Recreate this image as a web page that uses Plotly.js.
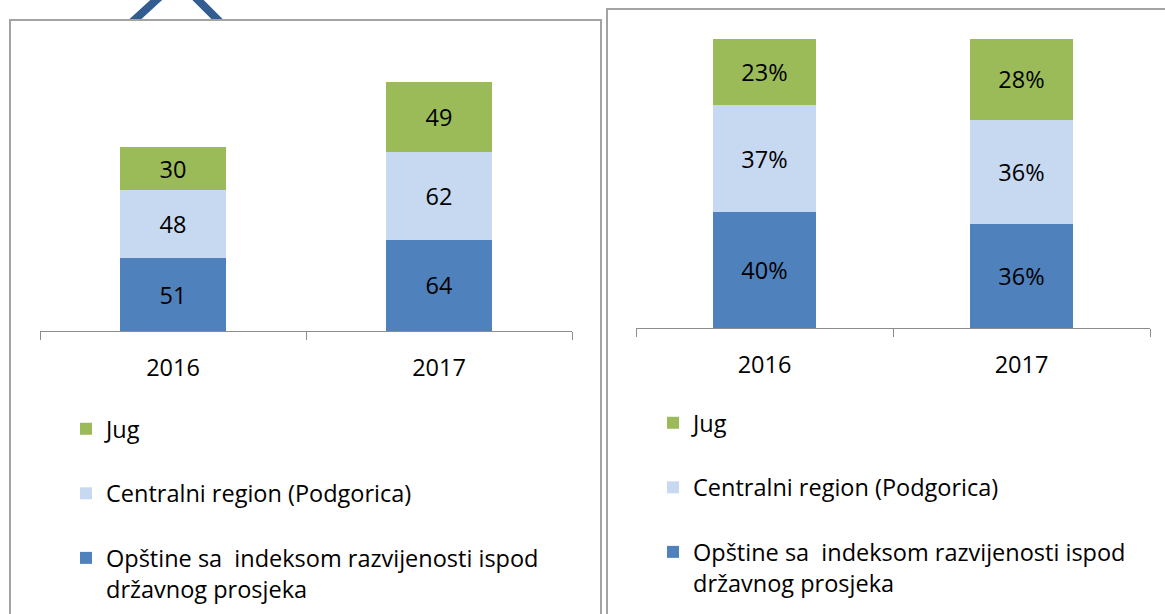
<!DOCTYPE html>
<html>
<head>
<meta charset="utf-8">
<script src="https://cdn.plot.ly/plotly-3.0.1.min.js"></script>
<style>html,body{margin:0;padding:0;background:#fff;} #chart{width:1165px;height:614px;}</style>
</head>
<body>
<div id="chart"></div>
<script>
// ---- data ----
const years = ['2016', '2017'];
const seriesNames = ['Opštine sa\u00a0 indeksom razvijenosti ispod<br>državnog prosjeka', 'Centralni region (Podgorica)', 'Jug'];
const countsOpstine = [51, 64];
const countsCentralni = [48, 62];
const countsJug = [30, 49];
const pctOpstine = [40, 36];
const pctCentralni = [37, 36];
const pctJug = [23, 28];
const colors = ['#4F81BD', '#C6D9F1', '#9BBB59'];

const W = 1165, H = 614;
const px = v => v / W;
const py = v => 1 - v / H;

const FONT = 'Open Sans, Liberation Sans, sans-serif';
const FS = 23.5;

function mk(name, x, y, color, xa, ya, legend, fmt, group, rank) {
  return {
    type: 'bar', name: name, x: x, y: y,
    xaxis: xa, yaxis: ya, legend: legend, legendgroup: group, legendrank: rank,
    marker: {color: color, line: {width: 0}},
    text: y.map(fmt), textposition: 'inside', insidetextanchor: 'middle',
    constraintext: 'none', textangle: 0,
    textfont: {family: FONT, size: FS, color: '#000'},
    hoverinfo: 'skip', width: 0.4
  };
}
const fCount = v => String(v);
const fPct = v => v + '%';

const data = [
  mk(seriesNames[0], years, countsOpstine, colors[0], 'x', 'y', 'legend', fCount, 'a1', 3),
  mk(seriesNames[1], years, countsCentralni, colors[1], 'x', 'y', 'legend', fCount, 'a2', 2),
  mk(seriesNames[2], years, countsJug, colors[2], 'x', 'y', 'legend', fCount, 'a3', 1),
  mk(seriesNames[0], years, pctOpstine, colors[0], 'x2', 'y2', 'legend2', fPct, 'b1', 3),
  mk(seriesNames[1], years, pctCentralni, colors[1], 'x2', 'y2', 'legend2', fPct, 'b2', 2),
  mk(seriesNames[2], years, pctJug, colors[2], 'x2', 'y2', 'legend2', fPct, 'b3', 1)
];

const xCommon = {
  type: 'category', range: [-0.5, 1.5], showgrid: false, zeroline: false,
  showline: true, linecolor: '#8c8c8c', linewidth: 1,
  ticks: 'outside', tickson: 'boundaries', ticklen: 8, tickcolor: '#8c8c8c', tickwidth: 1,
  tickfont: {family: FONT, size: FS, color: '#000'}, ticklabelstandoff: 16,
  fixedrange: true
};

const legendCommon = {
  orientation: 'v', xanchor: 'left', yanchor: 'top',
  traceorder: 'grouped', tracegroupgap: 31, valign: 'top',
  font: {family: FONT, size: FS, color: '#000'}, bgcolor: 'rgba(0,0,0,0)', borderwidth: 0
};

const layout = {
  width: W, height: H,
  margin: {l: 0, r: 0, t: 0, b: 0},
  paper_bgcolor: '#fff', plot_bgcolor: 'rgba(0,0,0,0)',
  barmode: 'stack', showlegend: true,
  font: {family: FONT, size: FS, color: '#000'},
  xaxis: Object.assign({}, xCommon, {domain: [px(40), px(572)], anchor: 'y'}),
  yaxis: {domain: [1 - 331 / H, 1 - (331 - 200 * 1.423) / H], range: [0, 200], visible: false, fixedrange: true, anchor: 'x'},
  xaxis2: Object.assign({}, xCommon, {domain: [px(636), px(1150)], anchor: 'y2'}),
  yaxis2: {domain: [1 - 328 / H, 1 - 39 / H], range: [0, 100], visible: false, fixedrange: true, anchor: 'x2'},
  legend: Object.assign({}, legendCommon, {x: px(66), y: py(407)}),
  legend2: Object.assign({}, legendCommon, {x: px(653), y: py(401)}),
  shapes: [
    {type: 'path', xref: 'paper', yref: 'paper',
     path: `M ${px(130)} ${py(24)} L ${px(165)} ${py(-8)} L ${px(190)} ${py(-8)} L ${px(222)} ${py(24)}`,
     line: {color: '#1d4b86', width: 8}, opacity: 0.9, layer: 'below'},
    {type: 'rect', xref: 'paper', yref: 'paper', x0: px(10), x1: px(601), y0: py(640), y1: py(20),
     line: {color: '#a3a3a3', width: 2}, fillcolor: '#ffffff', layer: 'below'},
    {type: 'rect', xref: 'paper', yref: 'paper', x0: px(607), x1: px(1200), y0: py(640), y1: py(9),
     line: {color: '#a3a3a3', width: 2}, fillcolor: '#ffffff', layer: 'below'}
  ]
};

Plotly.newPlot('chart', data, layout, {displayModeBar: false, staticPlot: true});
</script>
</body>
</html>
